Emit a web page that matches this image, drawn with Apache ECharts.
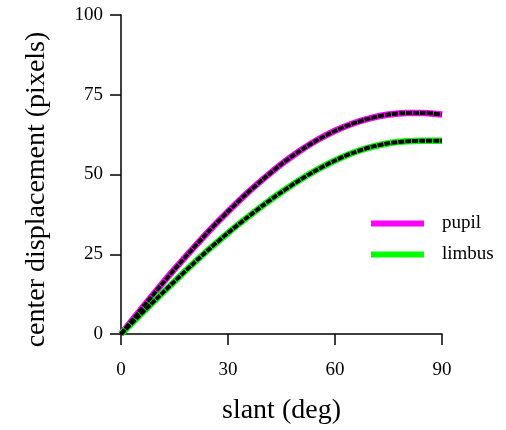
<!DOCTYPE html>
<html>
<head>
<meta charset="utf-8">
<script src="https://cdn.jsdelivr.net/npm/echarts@6/dist/echarts.min.js"></script>
<style>
html,body{margin:0;padding:0;background:#fff;}
#chart{width:506px;height:430px;}
</style>
</head>
<body>
<div id="chart"></div>
<script>
// Data (slant in degrees, displacement in pixels)
var slant = [0,5,10,15,20,25,30,35,40,45,50,55,60,65,70,75,80,85,90];
var pupil = [0,6.9,13.7,20.3,26.6,32.7,38.4,43.8,48.7,53.3,57.3,60.8,63.7,66.0,67.7,68.8,69.3,69.3,68.8];
var limbus = [0,5.6,11.1,16.5,21.8,26.9,31.7,36.2,40.5,44.5,48.2,51.5,54.4,56.8,58.6,59.8,60.4,60.6,60.6];
var xTicks = [0,30,60,90];
var yTicks = [0,25,50,75,100];

function pairs(xs, ys){ return xs.map(function(x,i){ return [x, ys[i]]; }); }

var font = 'Liberation Serif, Times New Roman, serif';
var chart = echarts.init(document.getElementById('chart'), null, {renderer:'canvas'});

function curve(name, data, color){
  return [
    {name:name, type:'line', data:data, smooth:0.25, showSymbol:false, symbol:'none',
     lineStyle:{color:color, width:6.5}, itemStyle:{color:color}, z:2},
    {name:name+'_overlay', type:'line', data:data, smooth:0.25, showSymbol:false, symbol:'none',
     lineStyle:{color:'#000', width:4, type:[6,1]}, itemStyle:{color:'#000'}, z:3}
  ];
}

chart.setOption({
  animation:false,
  backgroundColor:'#fff',
  grid:{left:121, top:15, right:64, bottom:95, containLabel:false},
  legend:{
    data:['pupil','limbus'],
    left:366, top:209, orient:'vertical',
    icon:'rect', itemWidth:53, itemHeight:6, itemGap:12,
    textStyle:{fontFamily:font, fontSize:19, color:'#000', padding:[0,0,0,13]}
  },
  xAxis:{
    type:'value', min:0, max:90, interval:30,
    name:'slant (deg)', nameLocation:'middle', nameGap:63, nameMoveOverlap:false,
    nameTextStyle:{fontFamily:font, fontSize:28, color:'#000'},
    axisLine:{show:true, lineStyle:{color:'#000', width:1.5}},
    axisTick:{show:true, inside:false, length:11, lineStyle:{color:'#000', width:1.5}},
    axisLabel:{fontFamily:font, fontSize:19, color:'#000', margin:27},
    splitLine:{show:false}
  },
  yAxis:{
    type:'value', min:0, max:100, interval:25,
    name:'center displacement (pixels)', nameLocation:'middle', nameGap:70, nameMoveOverlap:false,
    nameTextStyle:{fontFamily:font, fontSize:28, color:'#000', padding:[0,30,0,0]},
    axisLine:{show:true, lineStyle:{color:'#000', width:1.5}},
    axisTick:{show:true, inside:false, length:11, lineStyle:{color:'#000', width:1.5}},
    axisLabel:{fontFamily:font, fontSize:19, color:'#000', margin:18},
    splitLine:{show:false}
  },
  series: curve('pupil', pairs(slant, pupil), '#ff00ff').concat(curve('limbus', pairs(slant, limbus), '#00ff00'))
});
</script>
</body>
</html>
